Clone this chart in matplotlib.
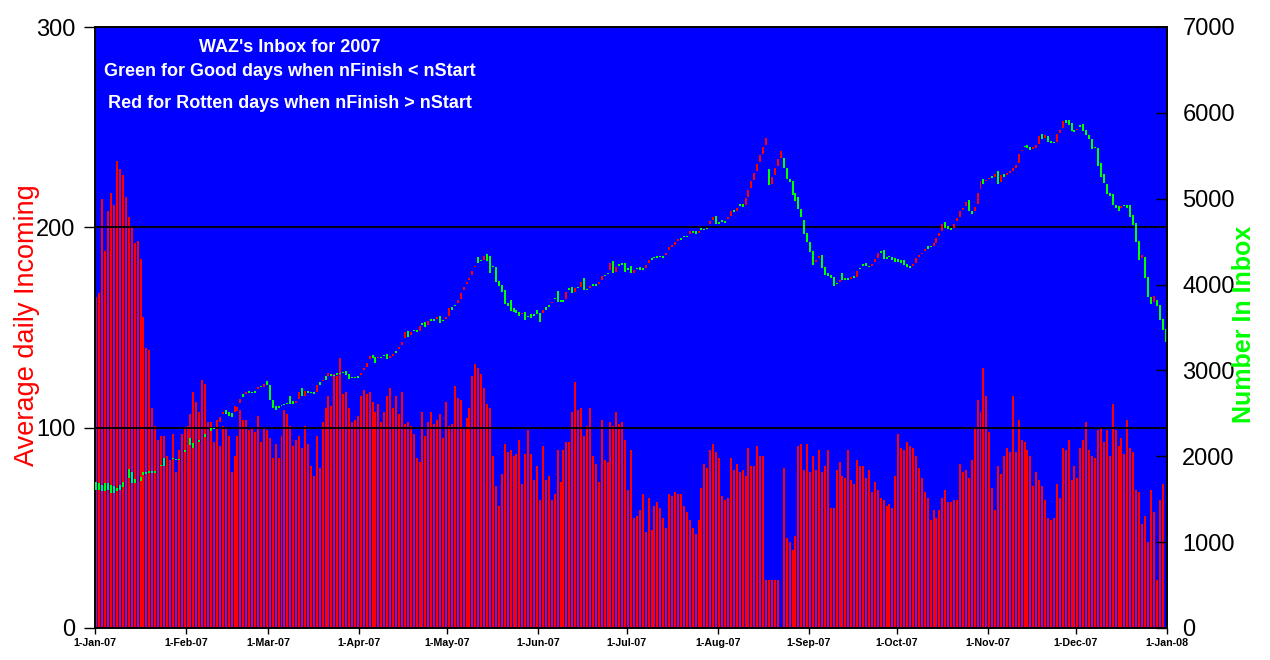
import numpy as np
import pandas as pd
import matplotlib
matplotlib.use("Agg")
import matplotlib.pyplot as plt

plt.rcParams['font.family'] = ['Liberation Sans', 'DejaVu Sans']

nan = float('nan')

# Average daily incoming (left axis), one value per day of 2007
incoming = [
    165, 167, 214, 188, 208, 217, 211, 233, 229, 226, 215, 205, 200, 192, 193, 184, 155, 140, 139, 110,
    101, 94, 96, 96, 86, 83, 97, 78, 89, 97,
    100, 101, 107, 118, 113, 108, 124, 122, 103, 103, 93, 104, 91, 101, 100, 96, 78, 86, 96, 109,
    104, 104, 99, 100, 98, 106, 93, 100, 99, 95, 85,
    92, 85, 96, 109, 107, 101, 91, 94, 96, 90, 101, 92, 81, 76, 96, 80, 103, 110, 116, 111,
    127, 126, 135, 117, 118, 110, 103, 104, 106, 116, 119,
    117, 118, 113, 108, 112, 103, 108, 116, 120, 110, 116, 107, 118, 102, 103, 101, 97, 85, 83, 108,
    96, 103, 108, 102, 104, 107, 95, 113, 101, 102,
    121, 115, 114, 100, 105, 110, 126, 132, 130, 127, 120, 112, 110, 86, 71, 61, 77, 92, 88, 89,
    86, 87, 94, 72, 87, 99, 87, 74, 81, 64, 91,
    74, 76, 64, 67, 89, 73, 89, 93, 93, 108, 123, 109, 110, 96, 101, 110, 86, 82, 73, 104,
    84, 83, 103, 101, 108, 102, 103, 94, 69, 89, 55,
    56, 59, 67, 48, 65, 49, 61, 63, 60, 55, 50, 67, 66, 68, 67, 67, 61, 58, 54, 50,
    47, 54, 70, 82, 80, 89, 92, 88, 85, 66,
    64, 65, 85, 79, 82, 78, 79, 76, 90, 81, 81, 91, 86, 86, 24, 24, 24, 24, 24, 0,
    80, 45, 43, 39, 46, 91, 92, 79, 92, 78, 86,
    79, 89, 78, 81, 89, 60, 60, 79, 83, 76, 75, 89, 74, 72, 84, 81, 81, 75, 79, 68,
    73, 69, 65, 64, 61, 62, 60, 76, 97, 90, 89,
    93, 91, 90, 86, 80, 75, 68, 65, 54, 59, 55, 59, 65, 69, 63, 63, 64, 64, 82, 78,
    79, 75, 84, 100, 114, 108, 130, 116, 98, 70,
    59, 81, 77, 86, 90, 88, 116, 88, 104, 94, 93, 89, 86, 71, 78, 74, 71, 64, 55, 54,
    55, 72, 65, 90, 89, 94, 74, 81, 75, 90, 94,
    103, 89, 86, 85, 99, 100, 93, 99, 86, 112, 99, 91, 95, 87, 104, 90, 88, 69, 68, 52,
    56, 43, 69, 58, 24, 64, 72, 0,
]

# Number in inbox at start (nStart) and finish (nFinish) of each day (right axis)
inbox_start = [
    1700, 1684, 1660, 1692, 1684, 1664, 1652, 1632, 1660, 1700, 1712, 1852, 1812, 1732, 1700, 1760, 1812, 1812, 1824, 1824,
    1824, nan, 1904, 1984, 1900, 1900, 1980, 1972, 1972, 1972,
    2072, nan, 2212, 2152, nan, 2192, nan, 2260, 2244, 2324, 2332, 2340, 2404, 2492, 2540, 2512, 2500, 2520, 2532, 2620,
    2724, 2724, 2764, 2752, 2764, 2780, 2820, 2812, 2872,
    2832, 2660, 2584, 2572, 2600, 2612, 2624, 2700, 2640, 2620, 2672, 2792, 2704, 2764, 2752, 2744, 2752, 2860, 2872, 2940,
    2932, 2964, 2952, 2972, 2972, 2984, 2996, 2960, 2920, 2920, 2932,
    2952, 3004, 3044, 3132, 3184, 3152, 3140, 3160, 3172, 3192, 3140, 3172, 3232, 3244, 3292, 3372, 3460, 3412, 3460, 3460,
    3464, 3552, 3564, 3532, 3604, 3604, 3600, 3636, 3580, 3604,
    3632, 3740, 3764, 3780, 3832, 3932, 4004, 4052, 4112, 4204, 4320, 4272, 4292, 4356, 4332, 4200, 4200, 4044, 3992, 3932,
    3784, 3820, 3732, 3700, 3680, 3652, 3676, 3636, 3660, 3652, 3708,
    3672, 3672, 3744, 3748, 3780, 3832, 3924, 3824, 3824, 3832, 3960, 3972, 3912, 3972, 3972, 4076, 3952, 3964, 4008, 4008,
    4008, 4052, 4112, 4124, 4172, 4272, 4144, 4240, 4252, 4252,
    4192, 4212, 4140, 4184, 4200, 4192, 4192, 4252, 4312, 4312, 4332, 4332, 4332, 4340, 4404, 4436, 4460, 4512, 4544, 4564,
    4564, 4592, 4624, 4620, 4604, 4656, 4644, 4652, 4704, 4752, 4800,
    4732, 4748, 4744, 4760, 4800, 4868, 4860, 4924, 4940, 4932, 5020, 5124, 5220, 5324, 5424, 5524, 5624, 5344, 5172, 5272,
    5380, 5472, 5472, 5352, 5232, 5204, 5064, 5024, 4884, 4748, 4600,
    4500, 4396, 4260, 4308, 4340, 4204, 4132, 4112, 4084, 4008, 4028, 4132, 4076, 4076, 4064, 4100, 4084, 4188, 4244, 4256,
    4220, 4220, 4264, 4312, 4396, 4404, 4324, 4332, 4320, 4308,
    4300, 4284, 4284, 4244, 4220, 4220, 4256, 4320, 4352, 4392, 4444, 4452, 4444, 4488, 4568, 4624, 4732, 4680, 4664, 4656,
    4744, 4788, 4868, 4912, 4984, 4860, 4852, 4940, 5112, 5228, 5204,
    5228, 5264, 5252, 5320, 5192, 5284, 5272, 5300, 5324, 5352, 5412, 5552, 5604, 5620, 5600, 5580, 5592, 5632, 5752, 5704,
    5736, 5672, 5660, 5660, 5760, 5824, 5912, 5912, 5884, 5800, 5800,
    5852, 5872, 5804, 5744, 5700, 5592, 5592, 5412, 5292, 5172, 5072, 5052, 4932, 4912, 4892, 4932, 4924, 4924, 4812, 4720,
    4512, 4304, 4320, 4084, 3852, 3792, 3820, 3760, 3600, 3480,
]
inbox_finish = [
    1612, 1612, 1600, 1592, 1604, 1572, 1572, 1592, 1612, 1644, 1792, 1752, 1692, 1692, 1752, 1712, 1780, 1788, 1804, 1804,
    1804, nan, 1884, 1884, 1952, 1952, 1964, 1952, 1952, 2012,
    2052, nan, 2132, 2100, nan, 2172, nan, 2220, 2300, 2300, 2312, 2372, 2460, 2512, 2492, 2472, 2460, 2580, 2572, 2672,
    2692, 2752, 2732, 2740, 2740, 2804, 2804, 2844, 2832,
    2652, 2560, 2540, 2568, 2588, 2592, 2604, 2612, 2604, 2644, 2752, 2700, 2760, 2740, 2732, 2728, 2828, 2832, 2892, 2892,
    2972, 2932, 2932, 2952, 2960, 2968, 2952, 2900, 2908, 2908, 2908,
    2972, 3024, 3092, 3164, 3140, 3092, 3160, 3140, 3168, 3132, 3164, 3192, 3204, 3272, 3332, 3452, 3392, 3444, 3456, 3452,
    3512, 3532, 3500, 3572, 3572, 3580, 3624, 3552, 3572, 3612,
    3732, 3700, 3752, 3824, 3900, 3972, 4032, 4076, 4156, 4212, 4252, 4272, 4332, 4272, 4132, 4200, 4032, 3984, 3912, 3772,
    3748, 3692, 3680, 3672, 3636, 3660, 3588, 3624, 3612, 3636, 3660,
    3564, 3708, 3704, 3744, 3800, 3828, 3800, 3800, 3800, 3912, 3932, 3904, 3960, 3960, 4028, 3932, 3940, 3984, 3984, 3984,
    4032, 4100, 4100, 4120, 4252, 4132, 4204, 4220, 4228, 4144,
    4172, 4132, 4172, 4180, 4172, 4172, 4232, 4292, 4288, 4308, 4312, 4324, 4312, 4372, 4432, 4464, 4500, 4532, 4516, 4556,
    4556, 4620, 4600, 4592, 4620, 4632, 4632, 4648, 4744, 4784, 4704,
    4704, 4724, 4716, 4784, 4852, 4844, 4892, 4920, 4908, 5004, 5100, 5204, 5300, 5400, 5504, 5600, 5704, 5160, 5252, 5352,
    5460, 5552, 5352, 5232, 5192, 5044, 4972, 4880, 4788, 4592, 4500,
    4384, 4232, 4292, 4332, 4192, 4112, 4100, 4080, 3984, 4004, 4052, 4052, 4052, 4052, 4088, 4076, 4160, 4184, 4216, 4216,
    4204, 4244, 4300, 4368, 4372, 4300, 4300, 4316, 4284, 4268,
    4268, 4252, 4232, 4208, 4192, 4232, 4312, 4348, 4372, 4416, 4416, 4432, 4480, 4544, 4604, 4704, 4660, 4652, 4640, 4704,
    4776, 4852, 4892, 4960, 4860, 4824, 4904, 5072, 5212, 5172, 5220,
    5244, 5240, 5292, 5172, 5272, 5252, 5300, 5324, 5352, 5392, 5524, 5572, 5600, 5592, 5572, 5600, 5628, 5732, 5692, 5744,
    5660, 5652, 5644, 5752, 5800, 5904, 5884, 5864, 5784, 5772, 5812,
    5840, 5784, 5744, 5692, 5584, 5588, 5380, 5252, 5184, 5052, 5032, 4932, 4892, 4860, 4912, 4916, 4892, 4792, 4692, 4492,
    4292, 4344, 4080, 3860, 3772, 3864, 3752, 3592, 3472, 3332,
]

month_labels = ['1-Jan-07', '1-Feb-07', '1-Mar-07', '1-Apr-07', '1-May-07', '1-Jun-07', '1-Jul-07',
                '1-Aug-07', '1-Sep-07', '1-Oct-07', '1-Nov-07', '1-Dec-07', '1-Jan-08']
month_dates = pd.to_datetime(month_labels, format='%d-%b-%y')

left_ticks = [0, 100, 200, 300]
right_ticks = [0, 1000, 2000, 3000, 4000, 5000, 6000, 7000]

title_lines = ["WAZ's Inbox for 2007", "Green for Good days when nFinish < nStart",
               "Red for Rotten days when nFinish > nStart"]

# ---------------------------------------------------------------
n_days = (month_dates[-1] - month_dates[0]).days
inc = np.array(incoming, float)
s = np.array(inbox_start, float)
f = np.array(inbox_finish, float)
n = min(len(inc), len(s), len(f), n_days)
inc, s, f = inc[:n], s[:n], f[:n]
days = np.arange(n) + 0.5

W, H = 1270, 660
fig = plt.figure(figsize=(W / 100, H / 100), dpi=100, facecolor='white')
ax = fig.add_axes([95 / W, 32 / H, 1072 / W, 601 / H])
ax.set_facecolor('#0000FF')

ax.bar(days, inc, width=0.68, color='#FF0000', linewidth=0, zorder=2)
for v in (100, 200):
    ax.axhline(v, color='black', lw=1.3, zorder=3)
ax.set_xlim(0, n_days)
ax.set_ylim(0, 300)
ax.set_yticks(left_ticks)
ax.set_yticklabels([str(t) for t in left_ticks], fontsize=17)
ax.tick_params(axis='y', direction='out', length=8, width=1, pad=6)

tick_pos = [(d - month_dates[0]).days for d in month_dates]
ax.set_xticks(tick_pos)
ax.set_xticklabels(month_labels, fontsize=7.7, fontweight='bold')
ax.tick_params(axis='x', direction='out', length=4, width=1, pad=3)

ax2 = ax.twinx()
ax2.set_ylim(0, 7000)
ax2.set_xlim(0, n_days)
mask = ~np.isnan(s)
lo = np.minimum(s, f)
hi = np.maximum(s, f)
hgt = np.maximum(hi - lo, 14)
cols = np.where(f > s, '#FF0000', '#00FF00')
ax2.bar(days[mask], hgt[mask], bottom=lo[mask], width=0.68, color=cols[mask], linewidth=0, zorder=3)
ax2.set_yticks(right_ticks)
ax2.set_yticklabels([str(t) for t in right_ticks], fontsize=17)
ax2.tick_params(axis='y', direction='in', length=8, width=1, pad=11)
ax2.spines['right'].set_zorder(5)

for a in (ax, ax2):
    for sp in a.spines.values():
        sp.set_color('black')
        sp.set_linewidth(1.2)

ys = [47, 71, 104]
for txt, y in zip(title_lines, ys):
    fig.text(290 / W, 1 - y / H, txt, color='white', fontsize=13, fontweight='bold',
             ha='center', va='center')

fig.text(27 / W, 1 - 325 / H, 'Average daily Incoming', color='#FF0000', fontsize=19.5,
         rotation=90, ha='center', va='center')
fig.text(1244 / W, 1 - 324 / H, 'Number In Inbox', color='#00FF00', fontsize=18,
         fontweight='bold', rotation=90, ha='center', va='center')

fig.savefig('out.png', dpi=100, facecolor='white')
